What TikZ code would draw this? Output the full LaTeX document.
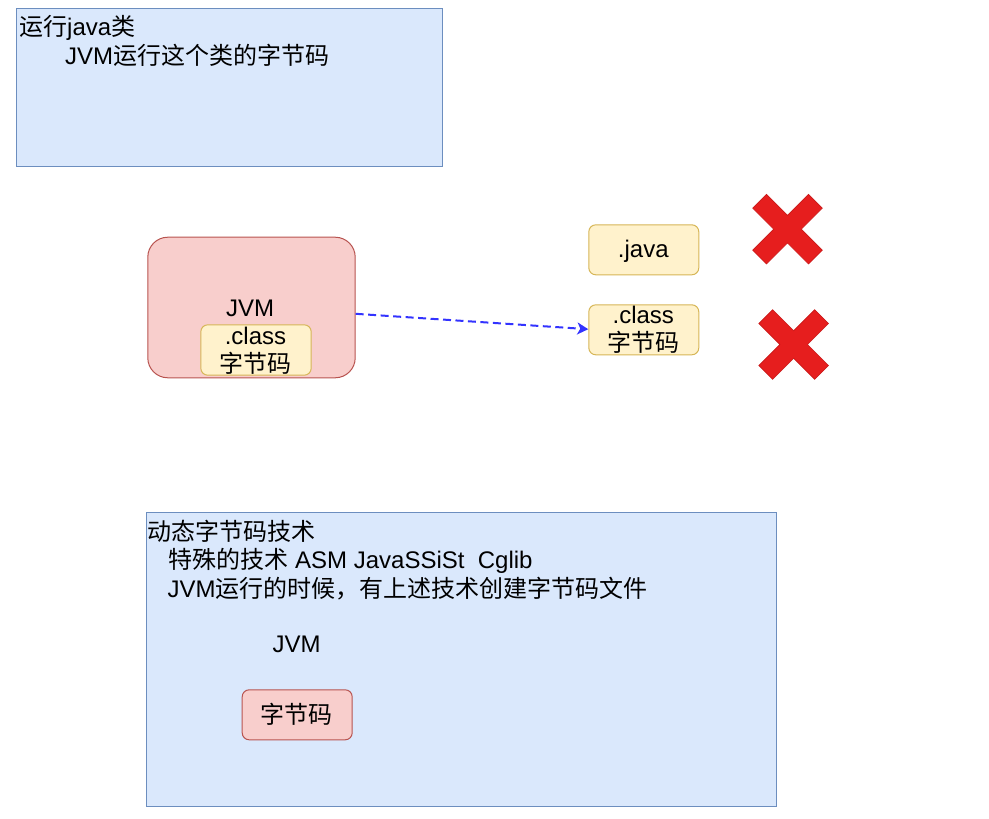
\documentclass[tikz,border=0pt]{standalone}
\usepackage{fontspec}
\setmainfont{Liberation Sans}
\newfontfamily\cjkfont{Noto Sans CJK SC}
\newcommand\zh[1]{{\cjkfont #1}}
\usetikzlibrary{arrows.meta}
\definecolor{bluefill}{HTML}{DAE8FC}
\definecolor{bluedraw}{HTML}{6C8EBF}
\definecolor{pinkfill}{HTML}{F8CECC}
\definecolor{pinkdraw}{HTML}{B85450}
\definecolor{yelfill}{HTML}{FFF2CC}
\definecolor{yeldraw}{HTML}{D6B656}
\definecolor{arrowblue}{HTML}{3333FF}
\definecolor{xred}{HTML}{E61E1E}
\definecolor{xreddark}{HTML}{C81818}
\tikzset{
  bluebox/.style={draw=bluedraw, fill=bluefill, line width=1pt, inner sep=0pt, anchor=north west},
  jvmbox/.style={draw=pinkdraw, fill=pinkfill, line width=1pt, rounded corners=20pt, inner sep=0pt, anchor=north west},
  pinkbox/.style={draw=pinkdraw, fill=pinkfill, line width=1pt, rounded corners=7pt, inner sep=0pt, anchor=north west},
  yelbox/.style={draw=yeldraw, fill=yelfill, line width=1pt, rounded corners=7pt, inner sep=0pt, anchor=north west},
  txt/.style={inner sep=0pt, font=\fontsize{24}{28.8}\selectfont},
  lefttxt/.style={txt, anchor=base west},
  ctrtxt/.style={txt, anchor=base},
  dasharrow/.style={draw=arrowblue, line width=2pt, dash pattern=on 8pt off 4.5pt, -{Stealth[length=11pt,width=12pt,inset=3pt]}},
  redx/.style={fill=xred, draw=xreddark, line width=0.6pt}
}
\newcommand\redcross[1]{%
  \begin{scope}[shift={#1}, rotate=45]
    \path[redx] (9.75,9.75) -- (39.5,9.75) -- (39.5,-9.75) -- (9.75,-9.75) -- (9.75,-39.5) -- (-9.75,-39.5) -- (-9.75,-9.75) -- (-39.5,-9.75) -- (-39.5,9.75) -- (-9.75,9.75) -- (-9.75,39.5) -- (9.75,39.5) -- cycle;
  \end{scope}}
\begin{document}
\begin{tikzpicture}[x=1pt,y=-1pt]
\useasboundingbox (0,0) rectangle (989,819);
% top box
\node[bluebox, minimum width=426pt, minimum height=158.6pt] (topbox) at (16.3,7.7) {};
\node[lefttxt] (t1) at (19,35.5) {\zh{运行}java\zh{类}};
\node[lefttxt] (t2) at (65,64.3) {JVM\zh{运行这个类的字节码}};
% JVM box
\node[jvmbox, minimum width=207.4pt, minimum height=140.6pt] (jvm) at (147.3,236.7) {};
\node[ctrtxt] (jvmlabel) at (250,316) {JVM};
\node[yelbox, minimum width=110.4pt, minimum height=50.4pt] (inner) at (200.3,324.3) {};
\node[ctrtxt] (innerA) at (255.5,344.3) {.class};
\node[ctrtxt] (innerB) at (255.5,372.3) {\zh{字节码}};
% right boxes
\node[yelbox, minimum width=110pt, minimum height=50pt] (javabox) at (588.3,224.3) {};
\node[ctrtxt] (javalabel) at (643.3,257.5) {.java};
\node[yelbox, minimum width=110pt, minimum height=50pt] (classbox) at (588.3,304.3) {};
\node[ctrtxt] (classA) at (643.3,323.3) {.class};
\node[ctrtxt] (classB) at (643.3,351.8) {\zh{字节码}};
% arrow
\draw[dasharrow] ([yshift=-6.3pt]jvm.east) -- ([yshift=0.6pt]classbox.west);
% red crosses
\redcross{(787.5,229.2)}
\redcross{(793.7,344.5)}
% bottom box
\node[bluebox, minimum width=629.5pt, minimum height=294pt] (botbox) at (146,512) {};
\node[lefttxt] (b1) at (147,540) {\zh{动态字节码技术}};
\node[lefttxt] (b2) at (168.3,568.8) {\zh{特殊的技术} ASM JavaSSiSt\ \ Cglib};
\node[lefttxt] (b3) at (167.3,597.6) {JVM\zh{运行的时候，有上述技术创建字节码文件}};
\node[ctrtxt] (b4) at (296.7,652) {JVM};
\node[pinkbox, minimum width=110pt, minimum height=50pt] (bytecode) at (241.7,689.3) {};
\node[ctrtxt] (bytecodelabel) at (296.7,723.5) {\zh{字节码}};
\end{tikzpicture}
\end{document}
